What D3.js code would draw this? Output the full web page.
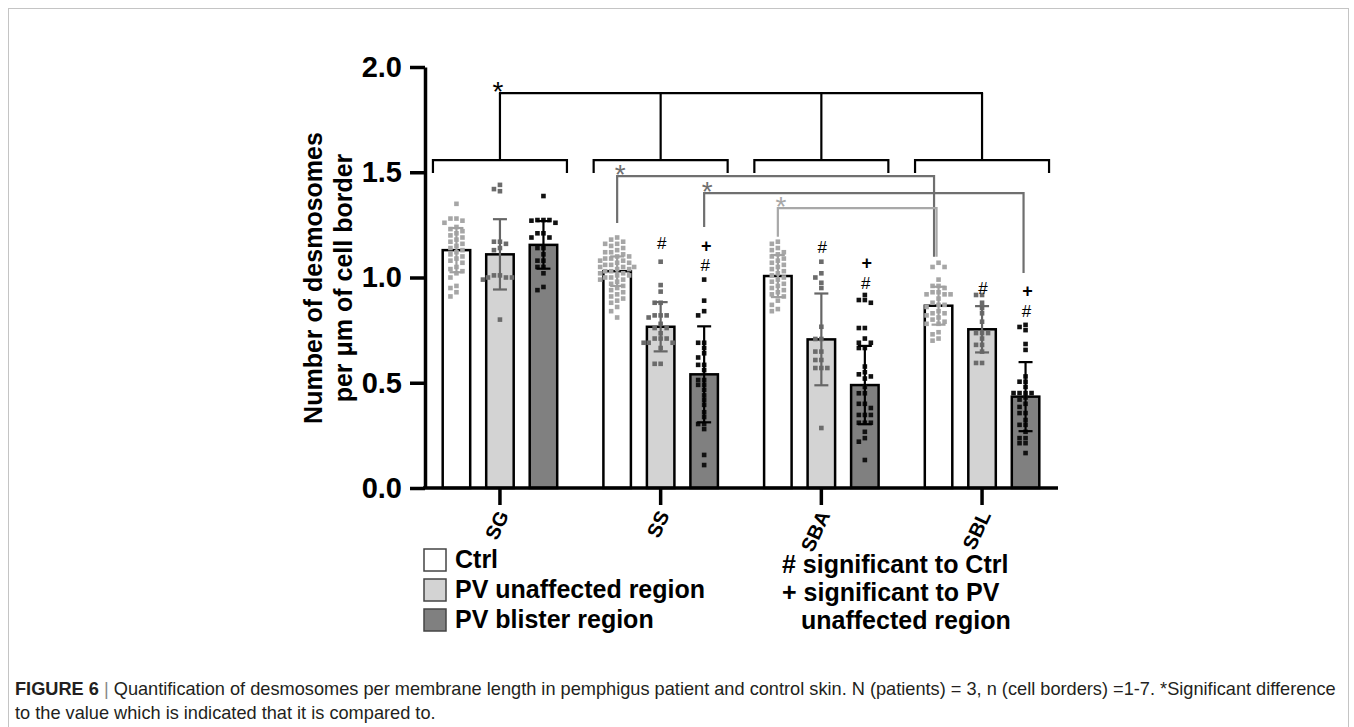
<!DOCTYPE html>
<html><head><meta charset="utf-8">
<script src="https://cdn.jsdelivr.net/npm/d3@7"></script>
<style>body{margin:0;background:#fff} svg{display:block}</style>
</head><body><svg id="c" width="1354" height="727"></svg>
<script>
// ---------------- DATA ----------------
const groups = ["SG", "SS", "SBA", "SBL"];
const seriesNames = ["Ctrl", "PV unaffected region", "PV blister region"];
const yTicks = [0.0, 0.5, 1.0, 1.5, 2.0];

const meanCtrl    = [1.13, 1.03, 1.007, 0.866];
const meanUnaff   = [1.11, 0.766, 0.706, 0.754];
const meanBlister = [1.155, 0.54, 0.489, 0.434];

const sdCtrl    = [0.105, 0.07, 0.10, 0.09];
const sdUnaff   = [0.167, 0.117, 0.218, 0.11];
const sdBlister = [0.113, 0.228, 0.186, 0.164];

const pointsCtrl = [
  [1.35,1.28,1.28,1.27,1.26,1.24,1.23,1.22,1.21,1.2,1.19,1.18,1.17,1.16,1.15,1.14,1.13,1.12,1.11,1.1,1.09,1.08,1.07,1.05,1.04,1.03,1.02,1.0,0.96,0.95,0.93,0.91],
  [1.19,1.18,1.17,1.16,1.16,1.15,1.14,1.13,1.12,1.12,1.11,1.10,1.10,1.09,1.09,1.08,1.08,1.07,1.07,1.06,1.06,1.05,1.05,1.05,1.04,1.04,1.03,1.03,1.02,1.02,1.01,1.01,1.0,1.0,0.99,0.99,0.98,0.97,0.96,0.95,0.94,0.93,0.92,0.91,0.90,0.89,0.88,0.86,0.84,0.81],
  [1.17,1.16,1.14,1.13,1.12,1.11,1.10,1.09,1.08,1.07,1.06,1.05,1.04,1.03,1.02,1.01,1.0,0.99,0.98,0.97,0.96,0.95,0.94,0.93,0.92,0.91,0.89,0.87,0.85,0.84],
  [1.07,1.05,1.05,0.99,0.96,0.96,0.95,0.93,0.93,0.92,0.92,0.92,0.90,0.88,0.87,0.87,0.86,0.84,0.83,0.83,0.82,0.81,0.80,0.79,0.78,0.78,0.74,0.73,0.71,0.70]
];
const pointsUnaff = [
  [1.44,1.42,1.41,1.17,1.17,1.16,1.14,1.13,1.01,1.01,1.0,1.0,1.0,0.99,0.80],
  [1.075,0.964,0.933,0.88,0.88,0.82,0.82,0.82,0.81,0.78,0.76,0.76,0.735,0.71,0.71,0.71,0.69,0.69,0.69,0.665,0.59,0.59],
  [1.075,1.02,1.0,0.975,0.95,0.766,0.708,0.708,0.648,0.648,0.608,0.608,0.57,0.57,0.57,0.285],
  [0.917,0.917,0.88,0.855,0.83,0.79,0.736,0.736,0.736,0.71,0.68,0.68,0.648,0.594,0.594]
];
const pointsBlister = [
  [1.387,1.273,1.273,1.273,1.27,1.26,1.21,1.21,1.19,1.19,1.14,1.14,1.11,1.08,1.08,1.05,1.05,1.02,0.955,0.94],
  [0.99,0.89,0.84,0.82,0.69,0.69,0.665,0.64,0.62,0.585,0.585,0.56,0.513,0.513,0.49,0.49,0.466,0.44,0.418,0.395,0.36,0.337,0.304,0.304,0.28,0.157,0.109],
  [0.917,0.893,0.893,0.88,0.76,0.76,0.71,0.69,0.69,0.665,0.665,0.577,0.55,0.54,0.53,0.52,0.48,0.45,0.45,0.40,0.40,0.38,0.347,0.347,0.347,0.31,0.31,0.31,0.267,0.237,0.22,0.133],
  [0.775,0.765,0.75,0.684,0.656,0.53,0.505,0.505,0.48,0.451,0.451,0.451,0.451,0.43,0.42,0.40,0.385,0.356,0.356,0.323,0.30,0.30,0.267,0.237,0.237,0.213,0.213,0.166]
];

// significance annotations: [group, series index, marks (top to bottom), level of the lowest mark]
const sigMarks = [
  ["SS", 1, ["#"], 1.164],
  ["SS", 2, ["+", "#"], 1.059],
  ["SBA", 1, ["#"], 1.145],
  ["SBA", 2, ["+", "#"], 0.974],
  ["SBL", 1, ["#"], 0.95],
  ["SBL", 2, ["+", "#"], 0.841]
];

// top black brackets
const groupBracketLevel = 1.558, groupBracketDrop = 1.496, topBracketLevel = 1.876;

// grey comparisons between bars
const comparisons = [
  {from:["SS",0], to:["SBL",0], level:1.482, fromTop:1.259, toTop:1.099, color:"#6f6f6f", shift:-2.5},
  {from:["SS",2], to:["SBL",2], level:1.401, fromTop:1.240, toTop:1.021, color:"#6f6f6f", shift:0},
  {from:["SBA",0], to:["SBL",0], level:1.330, fromTop:1.193, toTop:1.099, color:"#a8a8a8", shift:0}
];

// ---------------- CHART ----------------
const svg = d3.select("#c");
const FONT = "'Liberation Sans', Arial, Helvetica, sans-serif";
const fills = ["#ffffff", "#d3d3d3", "#808080"];
const dotColors = ["#a6a6a6", "#6b6b6b", "#111111"];
const errColors = ["#a0a0a0", "#666666", "#000000"];
const means = [meanCtrl, meanUnaff, meanBlister];
const sds = [sdCtrl, sdUnaff, sdBlister];
const pts = [pointsCtrl, pointsUnaff, pointsBlister];

// frame
svg.append("rect").attr("x", 8.5).attr("y", 8.5).attr("width", 1340).attr("height", 760)
  .attr("fill", "none").attr("stroke", "#c4c4c4").attr("stroke-width", 1);

const y = d3.scaleLinear().domain([0, 2]).range([488, 67]);
const xg = d3.scaleBand().domain(groups).range([419.6, 1062.4]);
const xs = d3.scalePoint().domain(seriesNames).range([-43.5, 43.5]);
const barW = 27.5;
const cx = (g, si) => xg(g) + xg.bandwidth() / 2 + xs(seriesNames[si]);

// bars
groups.forEach((g, gi) => {
  seriesNames.forEach((s, si) => {
    svg.append("rect")
      .attr("x", cx(g, si) - barW / 2).attr("y", y(means[si][gi]))
      .attr("width", barW).attr("height", y(0) - y(means[si][gi]))
      .attr("fill", fills[si]).attr("stroke", "#000").attr("stroke-width", 2.5);
  });
});

// dots (beeswarm)
function swarm(vals) {
  const arr = vals.map(v => ({v, py: y(v)})).sort((a, b) => a.py - b.py);
  const offs = [0, -6, 6, -12, 12, -17, 17];
  const placed = [];
  arr.forEach(p => {
    let chosen = null;
    for (const o of offs) {
      if (!placed.some(q => Math.abs(q.py - p.py) < 4.4 && Math.abs(q.dx - o) < 4.4)) { chosen = o; break; }
    }
    p.dx = chosen === null ? 0 : chosen;
    placed.push(p);
  });
  return arr;
}
const ds = 4.6;
groups.forEach((g, gi) => {
  seriesNames.forEach((s, si) => {
    const c = cx(g, si);
    svg.append("g").selectAll("rect").data(swarm(pts[si][gi])).join("rect")
      .attr("x", d => c + d.dx - ds / 2).attr("y", d => d.py - ds / 2)
      .attr("width", ds).attr("height", ds).attr("fill", dotColors[si]);
  });
});

// error bars
groups.forEach((g, gi) => {
  seriesNames.forEach((s, si) => {
    const c = cx(g, si), m = means[si][gi], sd = sds[si][gi];
    const e = svg.append("g").attr("stroke", errColors[si]).attr("stroke-width", 2.2).attr("fill", "none");
    e.append("line").attr("x1", c).attr("x2", c).attr("y1", y(m - sd)).attr("y2", y(m + sd));
    e.append("line").attr("x1", c - 7).attr("x2", c + 7).attr("y1", y(m - sd)).attr("y2", y(m - sd));
    e.append("line").attr("x1", c - 7).attr("x2", c + 7).attr("y1", y(m + sd)).attr("y2", y(m + sd));
  });
});

// axes
const yAxis = svg.append("g").attr("transform", "translate(425,0)")
  .call(d3.axisLeft(y).tickValues(yTicks).tickFormat(d3.format(".1f")).tickSize(15).tickSizeOuter(0).tickPadding(8));
yAxis.select(".domain").attr("stroke-width", 3.5).attr("stroke", "#000");
yAxis.selectAll(".tick line").attr("stroke-width", 3.5).attr("stroke", "#000");
yAxis.selectAll(".tick text").attr("font-family", FONT).attr("font-size", 29).attr("font-weight", "bold").attr("fill", "#000");

const xAxis = svg.append("g").attr("transform", "translate(0,488)")
  .call(d3.axisBottom(xg).tickSize(17).tickSizeOuter(0));
xAxis.select(".domain").remove();
xAxis.selectAll(".tick line").attr("stroke-width", 3.5).attr("stroke", "#000");
xAxis.selectAll(".tick text")
  .attr("font-family", FONT).attr("font-size", 20).attr("font-weight", "bold").attr("fill", "#000")
  .attr("text-anchor", "end").attr("dy", "0.35em").attr("y", 0)
  .attr("transform", "translate(3,24) rotate(-65)");
svg.append("line").attr("x1", 423).attr("x2", 1058).attr("y1", 488).attr("y2", 488)
  .attr("stroke", "#000").attr("stroke-width", 3.5);

// y title
[["Number of desmosomes", 322], ["per μm of cell border", 352]].forEach(([t, bx]) => {
  svg.append("text").attr("transform", `translate(${bx},278) rotate(-90)`)
    .attr("text-anchor", "middle").attr("font-family", FONT).attr("font-size", 25).attr("font-weight", "bold").text(t);
});

// black brackets
const bk = svg.append("g").attr("stroke", "#000").attr("stroke-width", 2.2).attr("fill", "none");
groups.forEach(g => {
  const c = xg(g) + xg.bandwidth() / 2;
  bk.append("path").attr("d", `M${c - 67},${y(groupBracketDrop)}V${y(groupBracketLevel)}H${c + 67}V${y(groupBracketDrop)}`);
  bk.append("line").attr("x1", c).attr("x2", c).attr("y1", y(groupBracketLevel)).attr("y2", y(topBracketLevel));
});
const gc0 = xg(groups[0]) + xg.bandwidth() / 2, gc3 = xg(groups[3]) + xg.bandwidth() / 2;
bk.append("line").attr("x1", gc0 - 1).attr("x2", gc3 + 1).attr("y1", y(topBracketLevel)).attr("y2", y(topBracketLevel));
function star(xp, yp, color) {
  svg.append("text").attr("x", xp).attr("y", yp + 15).attr("text-anchor", "middle")
    .attr("font-family", FONT).attr("font-size", 28).attr("fill", color).text("*");
}
star(gc0 - 2, y(topBracketLevel) - 7, "#000");

// grey comparisons
comparisons.forEach(cm => {
  const x1 = cx(cm.from[0], cm.from[1]), x2 = cx(cm.to[0], cm.to[1]) + cm.shift - 2;
  svg.append("path").attr("d", `M${x1},${y(cm.fromTop)}V${y(cm.level)}H${x2}V${y(cm.toTop)}`)
    .attr("fill", "none").attr("stroke", cm.color).attr("stroke-width", 2.2);
  star(x1 + 3, y(cm.level) - 7, cm.color);
});

// # and + marks (stacked)
sigMarks.forEach(([g, si, marks, lv]) => {
  const n = marks.length;
  marks.forEach((mk, i) => {
    const plus = mk === "+";
    svg.append("text").attr("text-anchor", "middle")
      .attr("x", cx(g, si) + (plus ? 2 : 1))
      .attr("y", y(lv) + 6 - (n - 1 - i) * 19.5)
      .attr("font-family", FONT).attr("fill", "#000")
      .attr("font-weight", plus ? "bold" : "normal")
      .attr("font-size", plus ? 18 : 17).text(mk);
  });
});

// legend
seriesNames.forEach((s, si) => {
  const by = 549 + si * 30;
  svg.append("rect").attr("x", 424).attr("y", by).attr("width", 22).attr("height", 22)
    .attr("fill", fills[si]).attr("stroke", "#444").attr("stroke-width", 1.5);
  svg.append("text").attr("x", 455).attr("y", by + 19).attr("font-family", FONT).attr("font-size", 25)
    .attr("font-weight", "bold").text(s);
});
const notes = [["# significant to Ctrl", 782, 573], ["+ significant to PV", 782, 601], ["unaffected region", 801, 629]];
notes.forEach(([t, xx, yy]) => {
  svg.append("text").attr("x", xx).attr("y", yy).attr("font-family", FONT).attr("font-size", 25)
    .attr("font-weight", "bold").text(t);
});

// caption
const cap1 = svg.append("text").attr("x", 15).attr("y", 695).attr("font-family", FONT).attr("font-size", 16).attr("fill", "#231f20");
cap1.append("tspan").attr("font-weight", "bold").text("FIGURE 6");
cap1.append("tspan").attr("fill", "#888").text(" | ");
cap1.append("tspan").text("Quantification of desmosomes per membrane length in pemphigus patient and control skin. N (patients) = 3, n (cell borders) =1-7. *Significant difference");
const w = cap1.node().getComputedTextLength();
const fs = 16 * 1322 / w;
cap1.attr("font-size", fs);
svg.append("text").attr("x", 15).attr("y", 719).attr("font-family", FONT).attr("font-size", fs).attr("fill", "#231f20")
  .text("to the value which is indicated that it is compared to.");
</script></body></html>
